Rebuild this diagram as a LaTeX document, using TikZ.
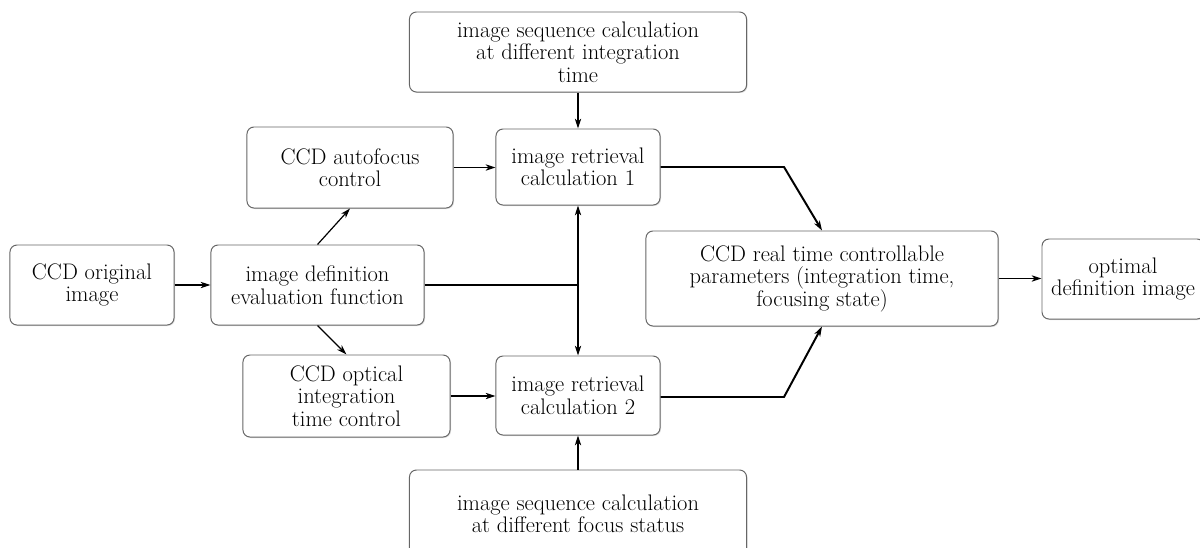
\documentclass[tikz,border=0pt]{standalone}
\usetikzlibrary{arrows.meta,shadows}
\begin{document}
\begin{tikzpicture}[x=0.025cm,y=-0.025cm,
  block/.style={draw=black!60, line width=0.7pt, rounded corners=5pt, fill=white,
    align=center, inner sep=2pt, font=\fontsize{16}{16}\selectfont,
    drop shadow={shadow xshift=0.7pt, shadow yshift=-0.7pt, fill=black!20, opacity=0.6}},
  link/.style={line width=0.85pt, -{Stealth[length=7pt,width=4.5pt,inset=2pt]}},
  plain/.style={line width=0.85pt},
  heavy/.style={line width=1.4pt, -{Stealth[length=7pt,width=4.5pt,inset=2pt]}}]
\useasboundingbox (0,0) rectangle (1200,547);

% blocks
\node[block, minimum width=8.425cm, minimum height=2.0cm] (seqint) at (578,52)
  {image sequence calculation\\at different integration\\time};
\node[block, minimum width=5.15cm, minimum height=2.025cm] (auto) at (350,167.5)
  {CCD autofocus\\control};
\node[block, minimum width=4.1cm, minimum height=1.9cm] (ret1) at (578,167)
  {image retrieval\\calculation 1};
\node[block, minimum width=4.1cm, minimum height=2.0cm] (orig) at (92,285)
  {CCD original\\image};
\node[block, minimum width=5.325cm, minimum height=2.0cm] (def) at (317.5,285)
  {image definition\\evaluation function};
\node[block, minimum width=5.175cm, minimum height=2.05cm] (opt) at (346.5,396)
  {CCD optical\\integration\\time control};
\node[block, minimum width=4.1cm, minimum height=1.975cm] (ret2) at (578,395.5)
  {image retrieval\\calculation 2};
\node[block, minimum width=8.8cm, minimum height=2.375cm] (param) at (822,278.5)
  {CCD real time controllable\\parameters (integration time,\\focusing state)};
\node[block, minimum width=4.05cm, minimum height=2.0cm] (best) at (1123,279)
  {optimal\\definition image};
\node[block, minimum width=8.425cm, minimum height=2.2cm] (seqfoc) at (578,514)
  {image sequence calculation\\at different focus status};

% connectors
\draw[link] (orig.east) -- (def.west);
\draw[link] (def.north) -- (auto.south);
\draw[link] (def.south) -- (opt.north);
\draw[link] (auto.east) -- (auto.east -| ret1.west);
\draw[link] (opt.east) -- (opt.east -| ret2.west);
\draw[link] (ret1.north |- seqint.south) -- (ret1.north);
\draw[link] (ret2.south |- seqfoc.north) -- (ret2.south);

\coordinate (j) at (ret1.south |- def.east);
\draw[plain] (def.east) -- (j);
\draw[link] (j) -- (ret1.south);
\draw[link] (j) -- (ret2.north);

\coordinate (k1) at (784,167);
\coordinate (k2) at (784,397);
\draw[heavy] (ret1.east) -- (k1) -- (param.north);
\draw[heavy] (ret2.east |- k2) -- (k2) -- (param.south);

\draw[link] (param.east) -- (param.east -| best.west);
\end{tikzpicture}
\end{document}
